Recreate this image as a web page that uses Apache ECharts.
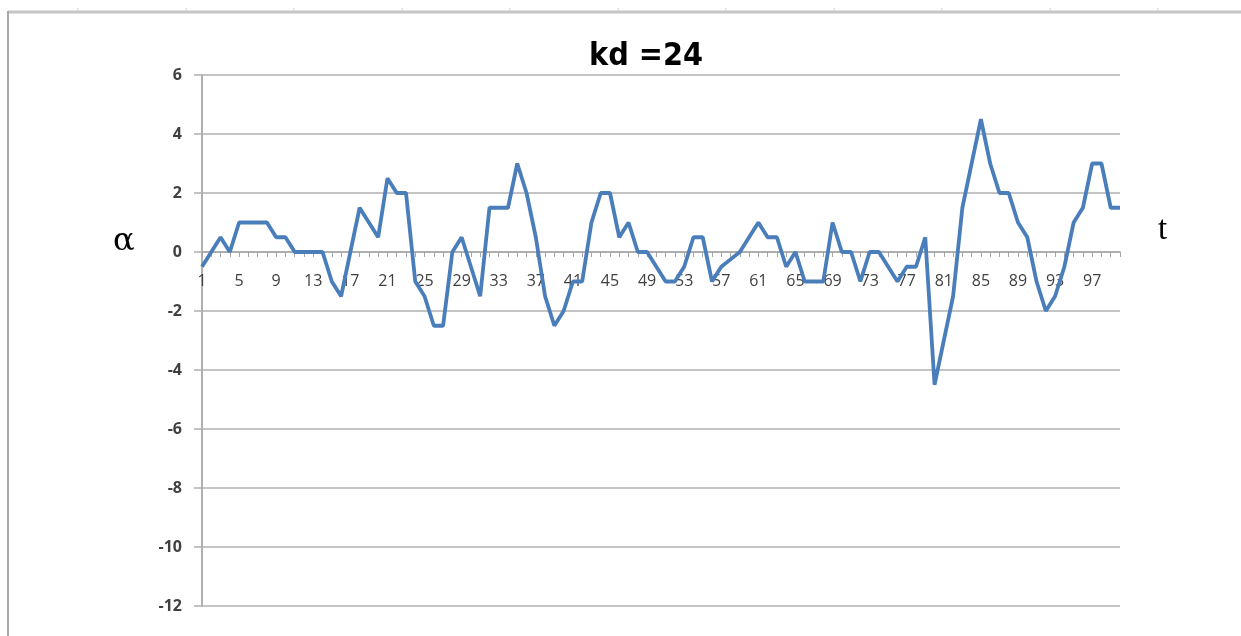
<!DOCTYPE html>
<html>
<head>
<meta charset="utf-8">
<script src="https://cdn.jsdelivr.net/npm/echarts@6/dist/echarts.min.js"></script>
<style>
  html, body { margin: 0; padding: 0; background: #fff; }
  #chart { width: 1241px; height: 636px; }
</style>
</head>
<body>
<div id="chart"></div>
<script>
// time steps 1..100
var steps = [];
for (var i = 1; i <= 100; i++) steps.push(String(i));

// alpha values
var alpha = [
  -0.5, 0, 0.5, 0, 1, 1, 1, 1, 0.5, 0.5,
  0, 0, 0, 0, -1, -1.5, 0, 1.5, 1, 0.5,
  2.5, 2, 2, -1, -1.5, -2.5, -2.5, 0, 0.5, -0.5,
  -1.5, 1.5, 1.5, 1.5, 3, 2, 0.5, -1.5, -2.5, -2,
  -1, -1, 1, 2, 2, 0.5, 1, 0, 0, -0.5,
  -1, -1, -0.5, 0.5, 0.5, -1, -0.5, -0.25, 0, 0.5,
  1, 0.5, 0.5, -0.5, 0, -1, -1, -1, 1, 0,
  0, -1, 0, 0, -0.5, -1, -0.5, -0.5, 0.5, -4.5,
  -3, -1.5, 1.5, 3, 4.5, 3, 2, 2, 1, 0.5,
  -1, -2, -1.5, -0.5, 1, 1.5, 3, 3, 1.5, 1.5
];

// frame: top border with small ruler marks, left border
var frame = [
  { type: 'line', shape: { x1: 8, y1: 12, x2: 1241, y2: 12 }, style: { stroke: '#c4c4c4', lineWidth: 3 } },
  { type: 'line', shape: { x1: 8, y1: 11, x2: 8, y2: 636 }, style: { stroke: '#a8a8a8', lineWidth: 2 } },
  { type: 'text', left: 113, top: 226, style: { text: 'α', font: '32px "DejaVu Serif"', fill: '#000' } },
  { type: 'text', left: 1158, top: 214, style: { text: 't', font: '33px "Liberation Serif"', fill: '#000' } }
];
for (var x = 78; x < 1241; x += 108) {
  frame.push({ type: 'line', shape: { x1: x, y1: 8, x2: x, y2: 12 }, style: { stroke: '#cfcfcf', lineWidth: 1 } });
}

var chart = echarts.init(document.getElementById('chart'));
chart.setOption({
  animation: false,
  title: {
    text: 'kd =24',
    left: 584,
    top: 36,
    textStyle: { fontFamily: 'DejaVu Sans Condensed', fontWeight: 'bold', fontSize: 32, color: '#000' }
  },
  grid: { left: 202, right: 121, top: 75, bottom: 30 },
  xAxis: {
    type: 'category',
    data: steps,
    boundaryGap: false,
    offset: -354,
    axisLine: { onZero: false, lineStyle: { color: '#a6a6a6', width: 1.5 } },
    axisTick: { interval: 0, length: 5, lineStyle: { color: '#a6a6a6' } },
    axisLabel: { interval: 3, margin: 21, fontFamily: 'Open Sans', fontSize: 16, color: '#404040' },
    splitLine: { show: false }
  },
  yAxis: {
    type: 'value',
    min: -12,
    max: 6,
    interval: 2,
    axisLine: { show: true, lineStyle: { color: '#b0b0b0', width: 2 } },
    axisTick: { show: true, length: 8, lineStyle: { color: '#b0b0b0', width: 1.5 } },
    axisLabel: { margin: 20, fontFamily: 'Open Sans', fontWeight: 'bold', fontSize: 16, color: '#404040' },
    splitLine: { lineStyle: { color: '#b0b0b0', width: 1.5 } }
  },
  graphic: frame,
  series: [{
    type: 'line',
    data: alpha,
    showSymbol: false,
    lineStyle: { color: '#4a7ebb', width: 3.8 },
    itemStyle: { color: '#4a7ebb' }
  }]
});
</script>
</body>
</html>
